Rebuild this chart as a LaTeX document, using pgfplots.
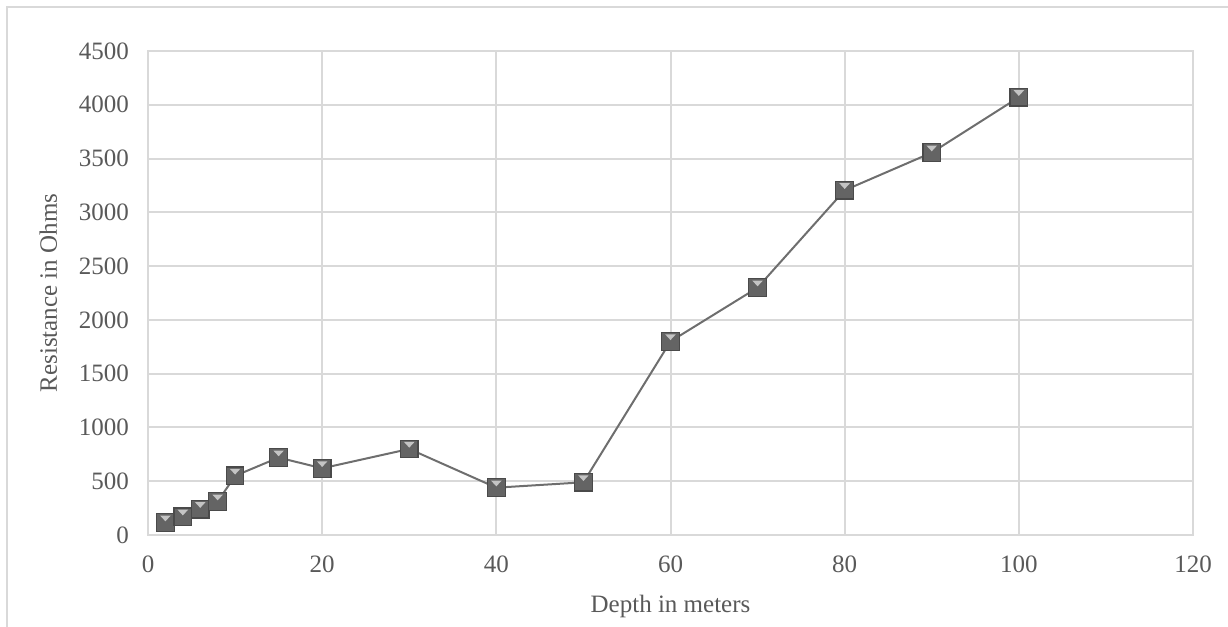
\documentclass[border=0pt]{standalone}
\usepackage{pgfplots}
\pgfplotsset{compat=1.18}
\usepackage{fontspec}
\setmainfont{Liberation Serif}
\definecolor{gridc}{HTML}{D9D9D9}
\definecolor{txtc}{HTML}{595959}
\definecolor{linec}{HTML}{6E6E6E}
\definecolor{mkfill}{HTML}{646464}
\definecolor{mkedge}{HTML}{4A4A4A}
\definecolor{mktri}{HTML}{C4C4C4}
\pgfdeclareplotmark{bevel}{%
  \pgfpathrectangle{\pgfpoint{-\pgfplotmarksize}{-\pgfplotmarksize}}{\pgfpoint{2\pgfplotmarksize}{2\pgfplotmarksize}}%
  \pgfsetfillcolor{mkfill}\pgfsetstrokecolor{mkedge}\pgfsetlinewidth{0.6pt}%
  \pgfusepath{fill,stroke}%
  \pgfpathmoveto{\pgfpoint{-0.6\pgfplotmarksize}{0.8\pgfplotmarksize}}%
  \pgfpathlineto{\pgfpoint{0.6\pgfplotmarksize}{0.8\pgfplotmarksize}}%
  \pgfpathlineto{\pgfpoint{0pt}{0.15\pgfplotmarksize}}%
  \pgfpathclose
  \pgfsetfillcolor{mktri}\pgfusepath{fill}%
}
\begin{document}
\begin{tikzpicture}
\useasboundingbox (0,0) rectangle (614pt,313.5pt);
\draw[gridc, line width=1pt] (3.5pt,0) -- (3.5pt,310pt) -- (614pt,310pt);
\begin{axis}[
  at={(74pt,46pt)}, anchor=south west,
  scale only axis, width=522.5pt, height=242pt,
  xmin=0, xmax=120, ymin=0, ymax=4500,
  xtick={0,20,...,120}, ytick={0,500,...,4500},
  grid=major,
  grid style={gridc, line width=1pt},
  axis line style={gridc, line width=1pt},
  major tick length=0pt,
  tick label style={font=\fontsize{12.5}{14}\selectfont, text=txtc},
  /pgf/number format/assume math mode=true,
  /pgf/number format/1000 sep={},
  xticklabel style={yshift=-7pt},
  yticklabel style={xshift=-6pt},
  xlabel={Depth in meters}, ylabel={Resistance in Ohms},
  label style={font=\fontsize{12.5}{14}\selectfont, text=txtc},
  xlabel style={yshift=-4pt},
  ylabel style={yshift=4pt},
  clip=false,
]
\addplot[linec, line width=1pt, mark=bevel, mark size=4.4pt] coordinates {
(2,115) (4,170) (6,240) (8,310) (10,550) (15,720) (20,620) (30,800) (40,440) (50,490) (60,1800) (70,2300) (80,3205) (90,3555) (100,4070)
};
\end{axis}
\end{tikzpicture}
\end{document}
